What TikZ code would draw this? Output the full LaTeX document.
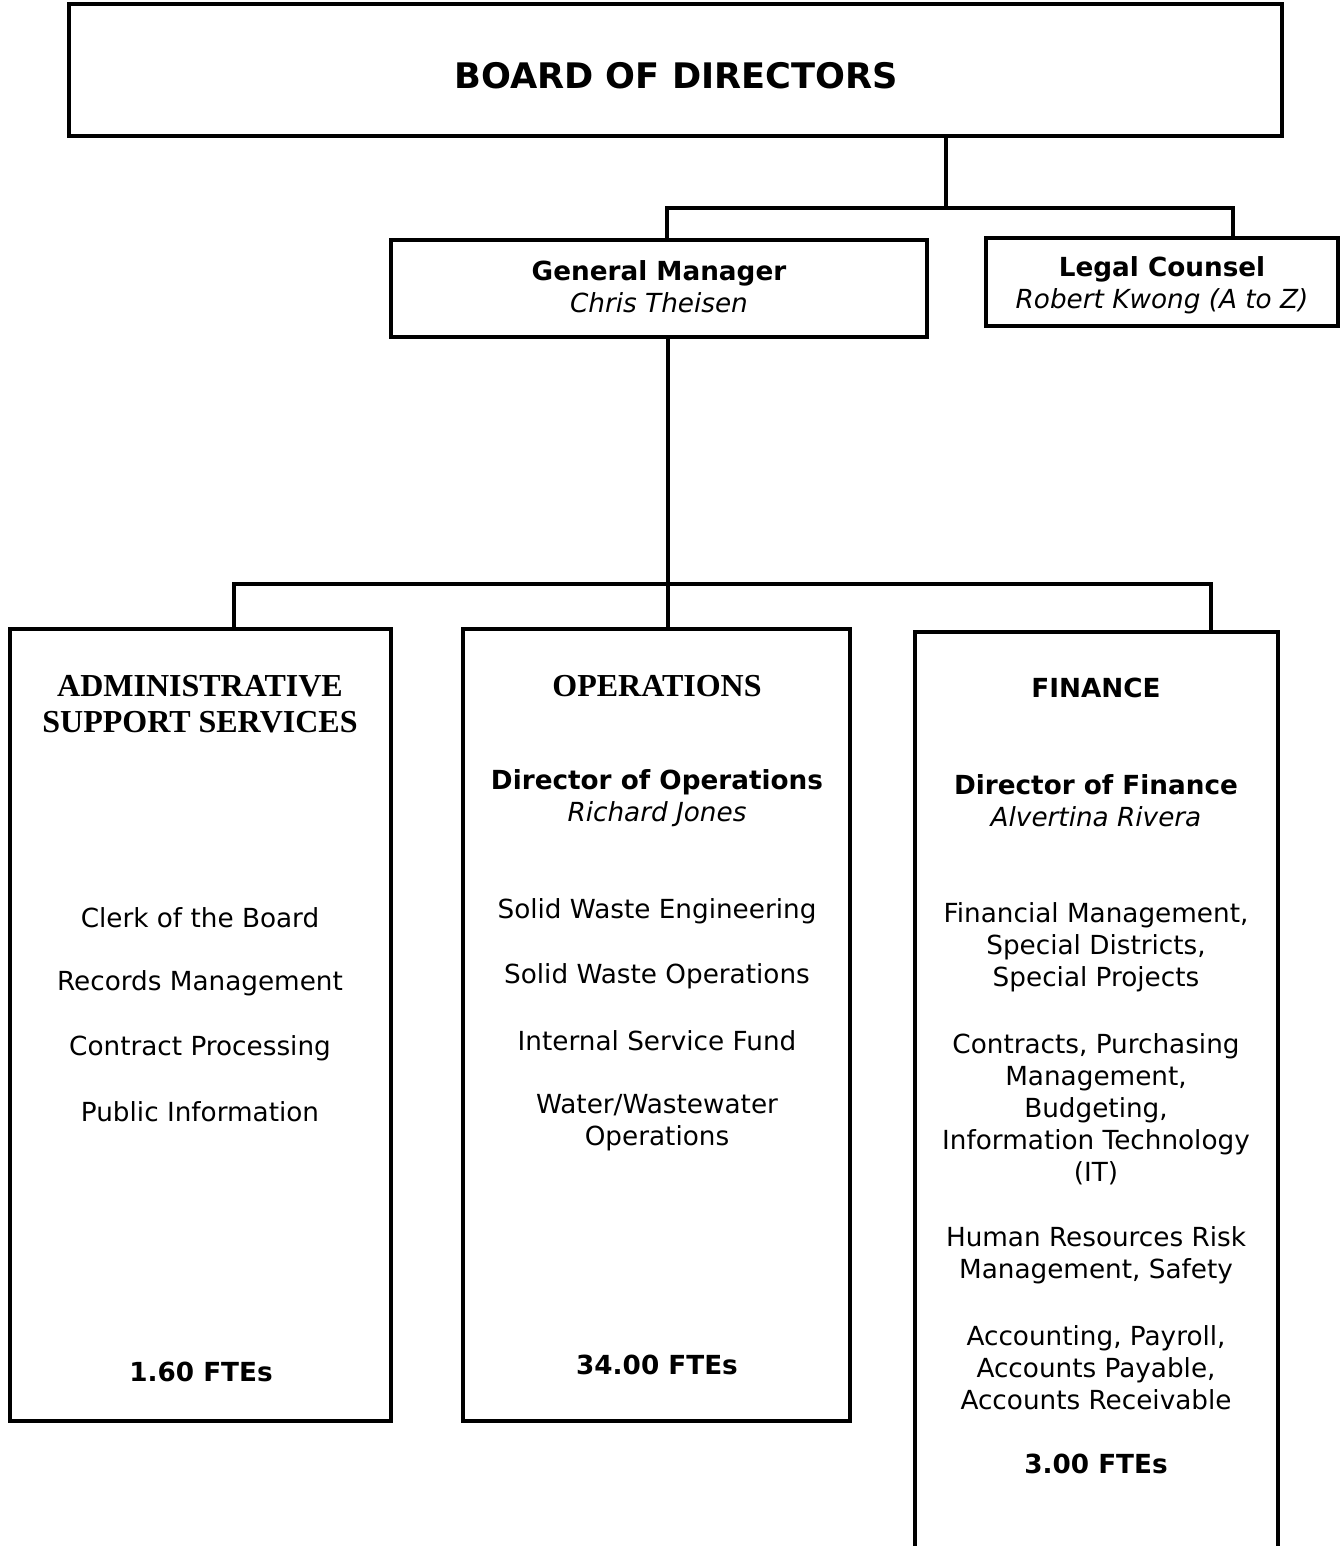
\documentclass[tikz,border=0pt]{standalone}
\usepackage{fontspec}
\setmainfont{DejaVu Sans}
\newfontfamily\hdrfont{Liberation Serif}
\begin{document}
\begin{tikzpicture}[x=0.75pt,y=-0.75pt,
  box/.style={draw,line width=3pt,inner sep=0pt},
  conn/.style={line width=2.3pt},
  txt/.style={inner sep=0pt,align=center,font=\fontsize{19.7}{24}\selectfont},
  hdr/.style={inner sep=0pt,align=center,font=\fontsize{24}{27}\selectfont\hdrfont\bfseries}]
\clip (0,0) rectangle (1343,1546);
\useasboundingbox (0,0) rectangle (1343,1546);
% boxes
\node[box,minimum width=1213*0.75pt,minimum height=132*0.75pt] (board) at (675.5,70) {};
\node[box,minimum width=536*0.75pt,minimum height=97*0.75pt] (gm) at (659,288.5) {};
\node[box,minimum width=352*0.75pt,minimum height=88*0.75pt] (legal) at (1162,282) {};
\node[box,minimum width=381*0.75pt,minimum height=792*0.75pt] (adm) at (200.5,1025) {};
\node[box,minimum width=387*0.75pt,minimum height=792*0.75pt] (ops) at (656.5,1025) {};
\node[box,minimum width=363*0.75pt,minimum height=960*0.75pt] (fin) at (1096.5,1112) {};
% connectors
\coordinate (j1) at (946,208);
\coordinate (gmx) at (667,0);
\coordinate (lgx) at (1233,0);
\draw[conn] (board.south -| j1) -- (j1);
\draw[conn] (gm.north -| gmx) |- (j1) -| (legal.north -| lgx);
\coordinate (j2) at (668,584);
\coordinate (adx) at (234,0);
\coordinate (fnx) at (1211,0);
\draw[conn] (gm.south -| j2) -- (j2) -- (ops.north -| j2);
\draw[conn] (adm.north -| adx) |- (j2) -| (fin.north -| fnx);
% texts
\node[txt,font=\fontsize{26.4}{30}\selectfont\bfseries] (tboard) at (676,76) {BOARD OF DIRECTORS};
\node[txt] (tgm) at (659,287) {\textbf{General Manager}\\\textit{Chris Theisen}};
\node[txt] (tlegal) at (1162,285) {\textbf{Legal Counsel}\\\textit{Robert Kwong (A to Z)}};
% admin
\node[hdr] (tadm) at (200,704) {ADMINISTRATIVE\\SUPPORT SERVICES};
\node[txt] (a1) at (200,918) {Clerk of the Board};
\node[txt] (a2) at (200,983) {Records Management};
\node[txt] (a3) at (200,1048) {Contract Processing};
\node[txt] (a4) at (200,1112) {Public Information};
\node[txt,font=\fontsize{19.7}{24}\selectfont\bfseries] (a5) at (201,1372) {1.60 FTEs};
% operations
\node[hdr] (tops) at (657,686) {OPERATIONS};
\node[txt] (o0) at (657,798) {\textbf{Director of Operations}\\\textit{Richard Jones}};
\node[txt] (o1) at (657,911) {Solid Waste Engineering};
\node[txt] (o2) at (657,976) {Solid Waste Operations};
\node[txt] (o3) at (657,1041) {Internal Service Fund};
\node[txt] (o4) at (657,1123) {Water/Wastewater\\Operations};
\node[txt,font=\fontsize{19.7}{24}\selectfont\bfseries] (o5) at (657,1365) {34.00 FTEs};
% finance
\node[txt,font=\fontsize{19.7}{24}\selectfont\bfseries] (tfin) at (1096,688) {FINANCE};
\node[txt] (f0) at (1096,801) {\textbf{Director of Finance}\\\textit{Alvertina Rivera}};
\node[txt] (f1) at (1096,947) {Financial Management,\\Special Districts,\\Special Projects};
\node[txt] (f2) at (1096,1109) {Contracts, Purchasing\\Management,\\Budgeting,\\Information Technology\\(IT)};
\node[txt] (f3) at (1096,1255) {Human Resources Risk\\Management, Safety};
\node[txt] (f4) at (1096,1368) {Accounting, Payroll,\\Accounts Payable,\\Accounts Receivable};
\node[txt,font=\fontsize{19.7}{24}\selectfont\bfseries] (f5) at (1096,1464) {3.00 FTEs};
\end{tikzpicture}
\end{document}
